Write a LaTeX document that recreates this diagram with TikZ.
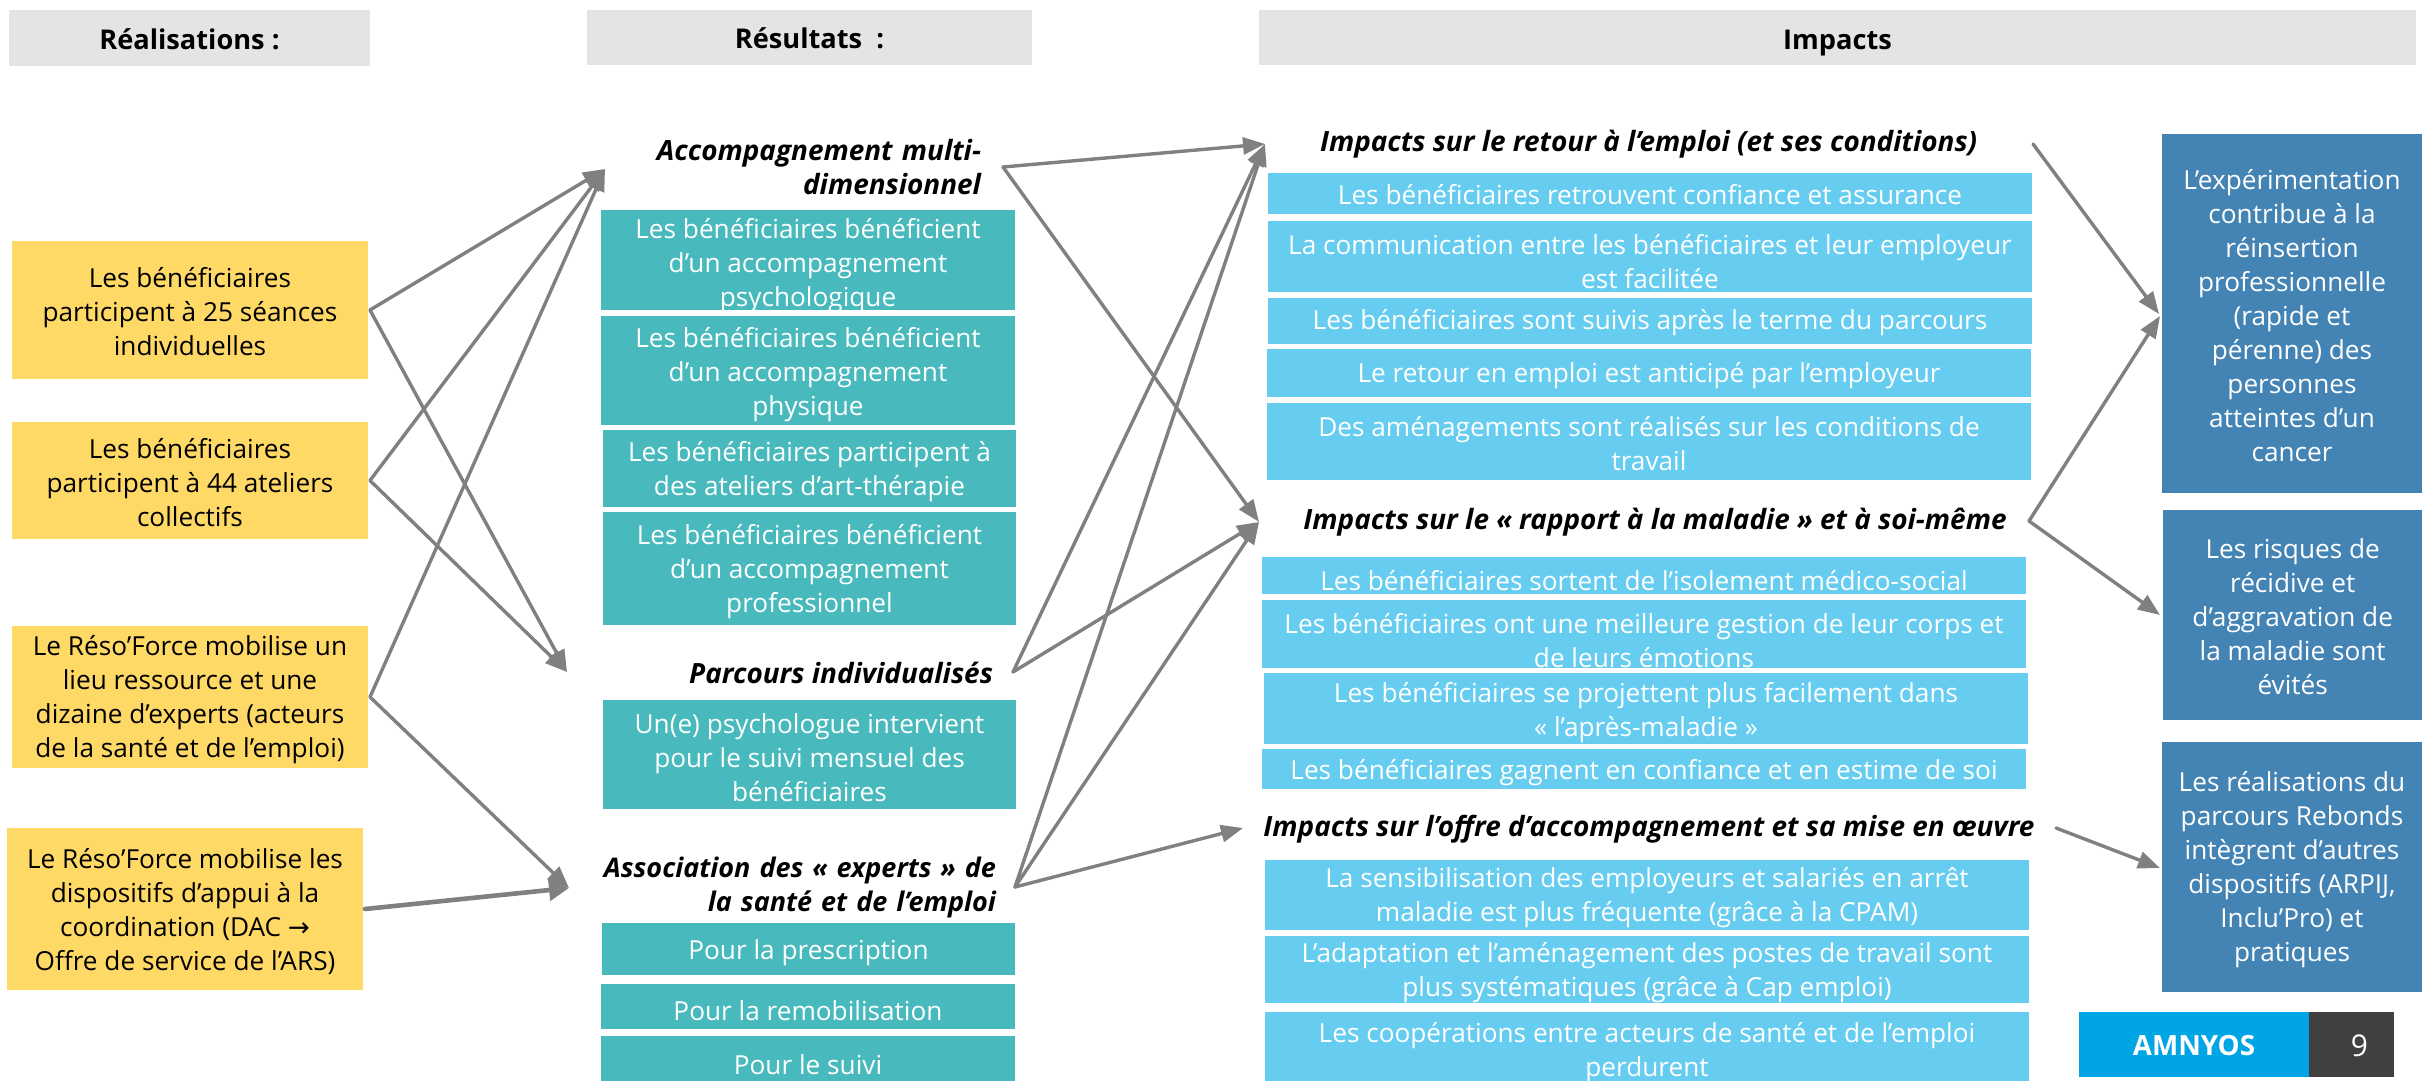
\documentclass[tikz,border=0pt]{standalone}
\usepackage{fontspec}
\setmainfont{Open Sans}
\newfontfamily\arrowfont{DejaVu Sans}
\usetikzlibrary{arrows.meta}
\definecolor{hdrgray}{HTML}{E4E4E4}
\definecolor{yel}{HTML}{FFD966}
\definecolor{tealc}{HTML}{48B9BC}
\definecolor{bluec}{HTML}{66CDF0}
\definecolor{darkc}{HTML}{4484B4}
\definecolor{amn}{HTML}{00A5E6}
\definecolor{numc}{HTML}{404040}
\definecolor{arrowc}{HTML}{808080}
\newcommand\bodyfont{\fontsize{26.2}{34}\selectfont}
\tikzset{
  x=1pt,y=-1pt,
  basebox/.style={inner sep=0pt,outer sep=0pt,draw=none},
  lab/.style={inner sep=0pt,outer sep=0pt,align=center,font=\bodyfont},
  hdrbox/.style={fill=hdrgray},
  hdrbox text/.style={font=\fontsize{27.2}{34}\selectfont\bfseries,text=black},
  yelbox/.style={fill=yel},
  yelbox text/.style={text=black},
  tealbox/.style={fill=tealc},
  tealbox text/.style={text=white},
  bluebox/.style={fill=bluec},
  bluebox text/.style={text=white},
  darkbox/.style={fill=darkc},
  darkbox text/.style={text=white},
  amnbox/.style={fill=amn},
  amnbox text/.style={font=\fontsize{27.8}{34}\selectfont\bfseries,text=white},
  numbox/.style={fill=numc},
  numbox text/.style={font=\fontsize{30}{34}\selectfont,text=white},
  ttl/.style={inner sep=0pt,outer sep=0pt,font=\fontsize{27.9}{34}\selectfont\bfseries\itshape,text=black},
  arr/.style={draw=arrowc,line width=3.4pt,line cap=round,-{Triangle[length=22pt,width=17pt]}},
  arrb/.style={draw=arrowc,line width=4.6pt,line cap=round,-{Triangle[length=20pt,width=21pt]}},
}
% name x1 y1 x2 y2 style dy text
\newcommand\bx[8]{%
  \node[basebox,#6,minimum width={(#4-#2)*1pt},minimum height={(#5-#3)*1pt}] (#1) at ({(#2+#4)/2},{(#3+#5)/2}) {};
  \begin{scope}
    \clip (#1.south west) rectangle (#1.north east);
    \node[lab,#6 text] (#1l) at ([yshift={-(#7+1)*1pt}]#1.center) {#8};
  \end{scope}
}
\begin{document}
\begin{tikzpicture}
\useasboundingbox (0,0) rectangle (2422,1081);
% headers
\bx{h1}{9}{10}{370}{66}{hdrbox}{0}{Réalisations :}
\bx{h2}{587}{10}{1032}{65}{hdrbox}{0}{Résultats\ \ :}
\bx{h3}{1259}{10}{2416}{65}{hdrbox}{5}{Impacts}
% realisations
\bx{y1}{12}{241}{368}{379}{yelbox}{1}{Les bénéficiaires\\participent à 25 séances\\individuelles}
\bx{y2}{12}{422}{368}{539}{yelbox}{1}{Les bénéficiaires\\participent à 44 ateliers\\collectifs}
\bx{y3}{12}{626}{368}{768}{yelbox}{1.6}{Le Réso’Force mobilise un\\lieu ressource et une\\dizaine d’experts (acteurs\\de la santé et de l’emploi)}
\bx{y4}{7}{828}{363}{990}{yelbox}{1.7}{Le Réso’Force mobilise les\\dispositifs d’appui à la\\coordination (DAC {\arrowfont →}\\Offre de service de l’ARS)}
% resultats
\node[ttl,anchor=east,align=right,text width=400pt] (tacc) at (981,167.5) {Accompagnement multi-\\dimensionnel};
\bx{t1}{601}{210}{1015}{310}{tealbox}{4.5}{Les bénéficiaires bénéficient\\d’un accompagnement\\psychologique}
\bx{t2}{601}{315.5}{1015}{424.5}{tealbox}{3.5}{Les bénéficiaires bénéficient\\d’un accompagnement\\physique}
\bx{t3}{603}{430}{1016}{506.5}{tealbox}{2.5}{Les bénéficiaires participent à\\des ateliers d’art-thérapie}
\bx{t4}{603}{512}{1016}{624.5}{tealbox}{2}{Les bénéficiaires bénéficient\\d’un accompagnement\\professionnel}
\node[ttl,anchor=east] (tpar) at (993,673) {Parcours individualisés};
\bx{t5}{603}{700}{1016}{809}{tealbox}{2}{Un(e) psychologue intervient\\pour le suivi mensuel des\\bénéficiaires}
\node[ttl,anchor=east,align=right,text width=450pt,font=\fontsize{27}{34}\selectfont\bfseries\itshape] (tass) at (996,887) {Association des « experts » de\\la santé et de l’emploi};
\bx{t6}{602}{923}{1015}{975}{tealbox}{2.5}{Pour la prescription}
\bx{t7}{601}{984}{1015}{1029}{tealbox}{3.5}{Pour la remobilisation}
\bx{t8}{601}{1035.5}{1015}{1081}{tealbox}{5}{Pour le suivi}
% impacts
\node[ttl] (tret) at (1648.6,144) {Impacts sur le retour à l’emploi (et ses conditions)};
\bx{b1}{1268}{173}{2032}{214}{bluebox}{0}{Les bénéficiaires retrouvent confiance et assurance}
\bx{b2}{1268}{221}{2032}{292}{bluebox}{4.5}{La communication entre les bénéficiaires et leur employeur\\est facilitée}
\bx{b3}{1268}{297.5}{2032}{343.5}{bluebox}{1.5}{Les bénéficiaires sont suivis après le terme du parcours}
\bx{b4}{1267}{349}{2031}{396.5}{bluebox}{2}{Le retour en emploi est anticipé par l’employeur}
\bx{b5}{1267}{402.5}{2031}{480}{bluebox}{1.5}{Des aménagements sont réalisés sur les conditions de\\travail}
\node[ttl] (trap) at (1655,522.5) {Impacts sur le « rapport à la maladie » et à soi-même};
\bx{b6}{1262}{557}{2026}{594}{bluebox}{4}{Les bénéficiaires sortent de l’isolement médico-social}
\bx{b7}{1262}{599.5}{2026}{667.5}{bluebox}{6}{Les bénéficiaires ont une meilleure gestion de leur corps et\\de leurs émotions}
\bx{b8}{1264}{673}{2028}{743.6}{bluebox}{3.5}{Les bénéficiaires se projettent plus facilement dans\\« l’après-maladie »}
\bx{b9}{1262}{749}{2026}{789.4}{bluebox}{2}{Les bénéficiaires gagnent en confiance et en estime de soi}
\node[ttl] (toff) at (1649,829.5) {Impacts sur l’offre d’accompagnement et sa mise en œuvre};
\bx{b10}{1265}{860}{2029}{930}{bluebox}{2}{La sensibilisation des employeurs et salariés en arrêt\\maladie est plus fréquente (grâce à la CPAM)}
\bx{b11}{1265}{936}{2029}{1002.6}{bluebox}{2}{L’adaptation et l’aménagement des postes de travail sont\\plus systématiques (grâce à Cap emploi)}
\bx{b12}{1265}{1011.6}{2029}{1081}{bluebox}{5}{Les coopérations entre acteurs de santé et de l’emploi\\perdurent}
% outcomes
\bx{d1}{2162}{134}{2422}{493}{darkbox}{1.5}{L’expérimentation\\contribue à la\\réinsertion\\professionnelle\\(rapide et\\pérenne) des\\personnes\\atteintes d’un\\cancer}
\bx{d2}{2163.4}{510}{2422}{720}{darkbox}{1}{Les risques de\\récidive et\\d’aggravation de\\la maladie sont\\évités}
\bx{d3}{2162}{742}{2422}{992}{darkbox}{2}{Les réalisations du\\parcours Rebonds\\intègrent d’autres\\dispositifs (ARPIJ,\\Inclu’Pro) et\\pratiques}
\bx{am}{2079}{1012}{2309}{1077}{amnbox}{0}{AMNYOS}
\bx{nm}{2309}{1012}{2394}{1077}{numbox}{0}{\hspace*{16pt}9}
% connector ends
\coordinate (accIn) at (605,169);
\coordinate (parIn) at (567,672);
\coordinate (assIn) at (569,888);
\coordinate (accOut) at (1003,167);
\coordinate (parOut) at (1013,672);
\coordinate (assOut) at (1015,887);
\coordinate (retIn) at (1265,144);
\coordinate (rapIn) at (1259,522);
\coordinate (offIn) at (1243,828);
\coordinate (retOut) at (2033,144);
\coordinate (rapOut) at (2029,521);
\coordinate (offOut) at (2056,828);
\coordinate (d1In) at (2159,314);
\coordinate (d1Inb) at (2160,316);
\coordinate (d2In) at (2160,615);
\coordinate (d3In) at (2160,868);
% connectors
\draw[arr] ([xshift=2pt]y1.east) -- (accIn);
\draw[arr] ([xshift=2pt]y2.east) -- (accIn);
\draw[arr] ([xshift=2pt]y3.east) -- (accIn);
\draw[arr] ([xshift=2pt]y1.east) -- (parIn);
\draw[arr] ([xshift=2pt]y2.east) -- (parIn);
\draw[arr] ([xshift=2pt]y3.east) -- (assIn);
\draw[arrb] ([xshift=2pt]y4.east) -- (assIn);
\draw[arr] (accOut) -- (retIn);
\draw[arr] (accOut) -- (rapIn);
\draw[arr] (parOut) -- (retIn);
\draw[arr] (parOut) -- (rapIn);
\draw[arr] (assOut) -- (retIn);
\draw[arr] (assOut) -- (rapIn);
\draw[arr] (assOut) -- (offIn);
\draw[arr] (retOut) -- (d1In);
\draw[arr] (rapOut) -- (d1Inb);
\draw[arr] (rapOut) -- (d2In);
\draw[arr] (offOut) -- (d3In);
\end{tikzpicture}
\end{document}
